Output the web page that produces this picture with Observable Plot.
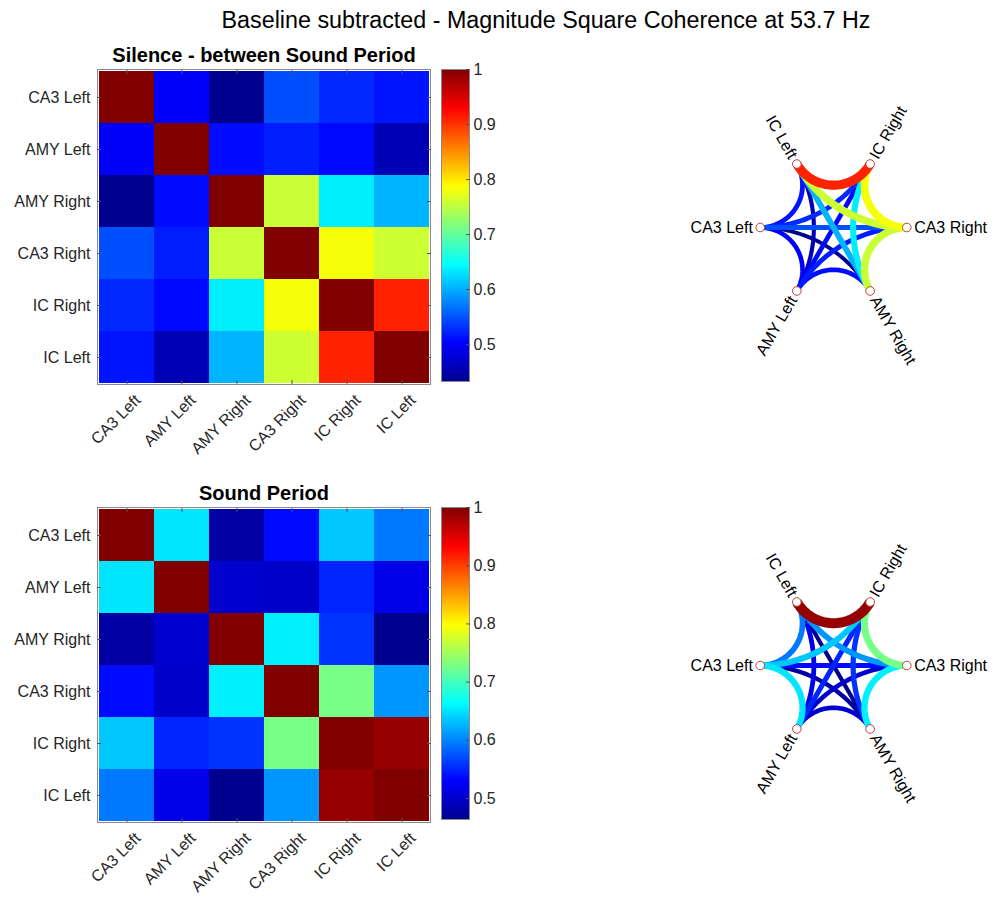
<!DOCTYPE html>
<html><head><meta charset="utf-8">
<script src="https://cdn.jsdelivr.net/npm/d3@7"></script>
<script src="https://cdn.jsdelivr.net/npm/@observablehq/plot@0.6"></script>
<style>
body{margin:0;background:#fff;font-family:"Liberation Sans",Arial,sans-serif;}
#fig{position:relative;width:993px;height:898px;overflow:hidden;background:#fff}
#fig > svg, #fig > div{position:absolute}
</style></head><body><div id="fig"></div>
<svg width="0" height="0" style="position:absolute">
  <defs>
    <linearGradient id="jetgrad" x1="0" y1="1" x2="0" y2="0">
      <stop offset="0" stop-color="#00008f"/>
      <stop offset="0.125" stop-color="#0000ff"/>
      <stop offset="0.375" stop-color="#00ffff"/>
      <stop offset="0.625" stop-color="#ffff00"/>
      <stop offset="0.875" stop-color="#ff0000"/>
      <stop offset="1" stop-color="#800000"/>
    </linearGradient>
  </defs>
</svg>
<script>
// ---------- data ----------
const mainTitle = "Baseline subtracted - Magnitude Square Coherence at 53.7 Hz";
const regions = ["CA3 Left", "AMY Left", "AMY Right", "CA3 Right", "IC Right", "IC Left"];
// order of nodes around the circular graph (starting at 180°, going counter-clockwise)
const ringOrder = ["CA3 Left", "AMY Left", "AMY Right", "CA3 Right", "IC Right", "IC Left"];

const silenceTitle = "Silence - between Sound Period";
const silenceMatrix = [
  [1.000, 0.501, 0.433, 0.548, 0.526, 0.515],
  [0.501, 1.000, 0.510, 0.520, 0.508, 0.457],
  [0.433, 0.510, 1.000, 0.757, 0.637, 0.604],
  [0.548, 0.520, 0.757, 1.000, 0.782, 0.760],
  [0.526, 0.508, 0.637, 0.782, 1.000, 0.910],
  [0.515, 0.457, 0.604, 0.760, 0.910, 1.000]
];

const soundTitle = "Sound Period";
const soundMatrix = [
  [1.000, 0.652, 0.477, 0.536, 0.636, 0.594],
  [0.652, 1.000, 0.502, 0.500, 0.550, 0.518],
  [0.477, 0.502, 1.000, 0.657, 0.558, 0.464],
  [0.536, 0.500, 0.657, 1.000, 0.728, 0.610],
  [0.636, 0.550, 0.558, 0.728, 1.000, 0.988],
  [0.594, 0.518, 0.464, 0.610, 0.988, 1.000]
];

const colorbarTicks = [0.5, 0.6, 0.7, 0.8, 0.9, 1];

// ---------- helpers ----------
const FONT = "'Liberation Sans', Arial, Helvetica, sans-serif";
const TXT = "#262626";
const jetKnots = [0, 0.125, 0.375, 0.625, 0.875, 1];
const jetColors = ["#00008f", "#0000ff", "#00ffff", "#ffff00", "#ff0000", "#800000"];
function jetScale(lo, hi) {
  return {type: "linear", domain: jetKnots.map(t => lo + t * (hi - lo)), range: jetColors, clamp: true};
}
const fig = document.getElementById("fig");
function place(el, left, top) { el.style.left = left + "px"; el.style.top = top + "px"; fig.appendChild(el); }

// main title
const t = document.createElement("div");
t.textContent = mainTitle;
Object.assign(t.style, {width: "800px", textAlign: "center", fontSize: "23.3px", lineHeight: "26px", color: "#000", fontFamily: FONT});
place(t, 546 - 400, 7);

function panel(matrix, title, Y0, CY) {
  const lo = d3.min(matrix.flat());
  const hi = 1;
  const cells = [];
  regions.forEach((r, i) => regions.forEach((c, j) => cells.push({row: r, col: c, value: matrix[i][j]})));

  // heatmap
  const heat = Plot.plot({
    width: 435, height: 40 + 315 + 85,
    marginLeft: 97, marginRight: 5, marginTop: 40, marginBottom: 85,
    style: {fontFamily: FONT, fontSize: "16px", color: TXT, background: "transparent", overflow: "visible"},
    x: {domain: regions, padding: 0, label: null},
    y: {domain: regions, padding: 0, label: null},
    color: jetScale(lo, hi),
    marks: [
      Plot.cell(cells, {x: "col", y: "row", fill: "value", inset: 0}),
      Plot.frame({stroke: "#8a8a8a"}),
      Plot.axisX({anchor: "bottom", tickSize: 0, tickPadding: 13, tickRotate: -45, dx: 11, fontSize: 16, fill: TXT}),
      Plot.axisY({anchor: "left", tickSize: 0, tickPadding: 7, fontSize: 16, fill: TXT}),
      Plot.axisX({anchor: "bottom", tickSize: -4, tickFormat: () => "", stroke: "#555"}),
      Plot.axisX({anchor: "top", tickSize: -4, tickFormat: () => "", stroke: "#555"}),
      Plot.axisY({anchor: "left", tickSize: -4, tickFormat: () => "", stroke: "#555"}),
      Plot.axisY({anchor: "right", tickSize: -4, tickFormat: () => "", stroke: "#555"}),
      Plot.text([title], {frameAnchor: "top", dy: -8, lineAnchor: "bottom", fontSize: 20, fontWeight: "bold", fill: "#000"})
    ]
  });
  place(heat, 0, Y0 - 40);

  // colorbar
  const cbar = Plot.plot({
    width: 28 + 45, height: 10 + 312 + 10,
    marginLeft: 0, marginRight: 45, marginTop: 10, marginBottom: 10,
    style: {fontFamily: FONT, fontSize: "16px", color: TXT, background: "transparent", overflow: "visible"},
    x: {domain: [0, 1], axis: null},
    y: {domain: [lo, hi], axis: null},
    marks: [
      Plot.frame({fill: "url(#jetgrad)", stroke: "#8a8a8a"}),
      Plot.axisY(colorbarTicks, {anchor: "right", tickSize: -4, tickPadding: 8, stroke: "#555", fill: TXT, fontSize: 16,
        tickFormat: d => d === 1 ? "1" : d.toFixed(1)})
    ]
  });
  place(cbar, 441, Y0 - 10);

  // circular graph
  const n = ringOrder.length;
  const nodes = ringOrder.map((name, k) => {
    const a = Math.PI * (-1 + 2 * k / n);
    return {name, a, x: Math.cos(a), y: Math.sin(a)};
  });
  const byName = Object.fromEntries(nodes.map(d => [d.name, d]));
  const edges = [];
  for (let i = 0; i < regions.length; i++)
    for (let j = i + 1; j < regions.length; j++)
      edges.push({id: regions[i] + "|" + regions[j], a: byName[regions[i]], b: byName[regions[j]], value: matrix[i][j]});
  edges.sort((p, q) => p.value - q.value);
  const pts = [];
  for (const e of edges) {
    const u = [e.a.x, e.a.y], v = [e.b.x, e.b.y];
    const det = u[0] * v[1] - u[1] * v[0];
    if (Math.abs(det) < 1e-6) {
      pts.push({edge: e.id, value: e.value, x: u[0], y: u[1]});
      pts.push({edge: e.id, value: e.value, x: v[0], y: v[1]});
      continue;
    }
    const x0 = -(u[1] - v[1]) / det, y0 = (u[0] - v[0]) / det;
    const r = Math.sqrt(x0 * x0 + y0 * y0 - 1);
    const t1 = Math.atan2(u[1] - y0, u[0] - x0);
    let dt = Math.atan2(v[1] - y0, v[0] - x0) - t1;
    while (dt > Math.PI) dt -= 2 * Math.PI;
    while (dt < -Math.PI) dt += 2 * Math.PI;
    const steps = 48;
    for (let s = 0; s <= steps; s++) {
      const th = t1 + dt * s / steps;
      pts.push({edge: e.id, value: e.value, x: x0 + r * Math.cos(th), y: y0 + r * Math.sin(th)});
    }
  }
  const L = 150 / 73.3;
  const leftNodes = nodes.filter(d => Math.cos(d.a) < -1e-6);
  const rightNodes = nodes.filter(d => Math.cos(d.a) >= -1e-6);
  const deg = a => a * 180 / Math.PI;
  const graph = Plot.plot({
    width: 300, height: 300, margin: 0,
    style: {fontFamily: FONT, fontSize: "16px", color: "#000", background: "transparent", overflow: "visible"},
    x: {domain: [-L, L], axis: null},
    y: {domain: [-L, L], axis: null},
    color: jetScale(lo, hi),
    marks: [
      Plot.line(pts, {x: "x", y: "y", z: "edge", stroke: "value", strokeWidth: d => 11 * (d.value - 0.08), strokeLinecap: "butt", curve: "linear"}),
      Plot.dot(nodes, {x: "x", y: "y", r: 4.3, stroke: "#b9413c", fill: "white", strokeWidth: 1}),
      Plot.text(leftNodes, {x: d => 1.1 * d.x, y: d => 1.1 * d.y, text: "name", textAnchor: "end", rotate: d => 180 - deg(d.a) - (deg(d.a) < 0 ? 360 : 0), fontSize: 16, fill: "#000"}),
      Plot.text(rightNodes, {x: d => 1.1 * d.x, y: d => 1.1 * d.y, text: "name", textAnchor: "start", rotate: d => -deg(d.a), fontSize: 16, fill: "#000"})
    ]
  });
  place(graph, 833.3 - 150, CY - 150);
}

panel(silenceMatrix, silenceTitle, 69, 226.7);
panel(soundMatrix, soundTitle, 507, 664.5);
</script>
</body></html>
